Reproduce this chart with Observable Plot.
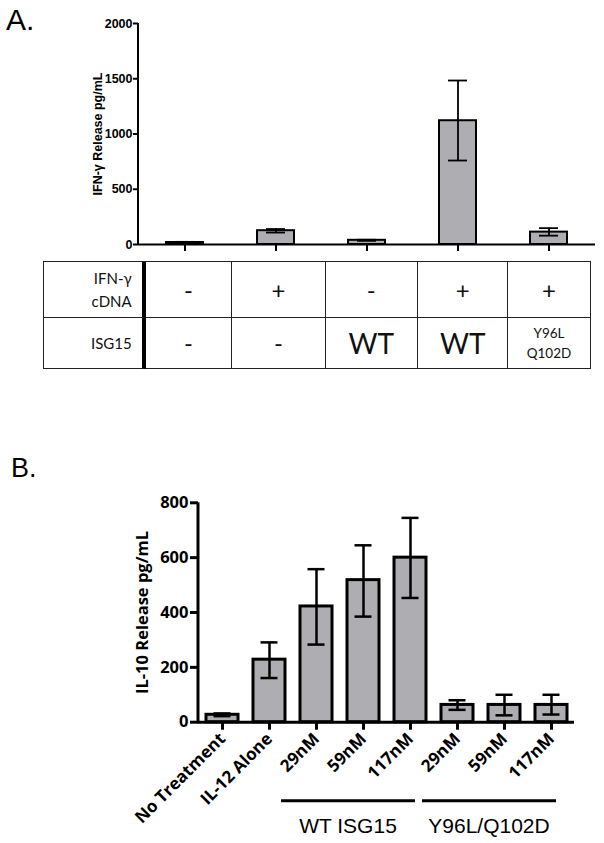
<!DOCTYPE html>
<html>
<head>
<meta charset="utf-8">
<script src="https://cdn.jsdelivr.net/npm/d3@7"></script>
<script src="https://cdn.jsdelivr.net/npm/@observablehq/plot@0.6"></script>
<style>
  body { margin: 0; background: #fff; }
  #root { position: relative; width: 604px; height: 843px; overflow: hidden; background: #fff; }
  .abs { position: absolute; }
  .panelLetter { font-family: "Liberation Sans", Arial, sans-serif; color: #000; white-space: nowrap; }
  .tbl { display: grid; box-sizing: border-box; border-top: 1.5px solid #222; border-left: 1.5px solid #222;
         font-family: Lato, "Open Sans", sans-serif; color: #111; }
  .cell { box-sizing: border-box; border-right: 1.5px solid #222; border-bottom: 1.5px solid #222;
          display: flex; align-items: center; justify-content: center; text-align: center; }
  .cell.head { justify-content: flex-end; text-align: right; padding-right: 10px; border-right: 4px solid #000; font-size: 15px; line-height: 23px; }
</style>
</head>
<body>
<div id="root"></div>
<script>
// ---------- Panel A data ----------
const aKeys = ["c1", "c2", "c3", "c4", "c5"];
const aMeans = [18, 125, 38, 1120, 112];
const aLow = [12, 108, 33, 760, 80];
const aHigh = [24, 140, 43, 1484, 148];
const aTicks = [0, 500, 1000, 1500, 2000];
const aYLabel = "IFN-γ Release pg/mL";
const tableRowNames = [["IFN-γ", "cDNA"], ["ISG15"]];
const ifnRow = ["-", "+", "-", "+", "+"];
const isgRow = ["-", "-", "WT", "WT", "Y96L\nQ102D"];

// ---------- Panel B data ----------
const bKeys = ["none", "il12", "wt29", "wt59", "wt117", "mut29", "mut59", "mut117"];
const bLabels = ["No Treatment", "IL-12 Alone", "29nM", "59nM", "117nM", "29nM", "59nM", "117nM"];
const bMeans = [27, 228, 422, 518, 600, 63, 63, 63];
const bLow = [22, 161, 283, 385, 453, 45, 25, 28];
const bHigh = [32, 291, 558, 645, 745, 80, 100, 100];
const bTicks = [0, 200, 400, 600, 800];
const bYLabel = "IL-10 Release pg/mL";
const groupNames = ["WT ISG15", "Y96L/Q102D"];
const groupFirst = ["wt29", "mut29"];
const groupLast = ["wt117", "mut117"];

const root = document.getElementById("root");
const barFill = "#aeaeb2";

// draw the y-axis line from the plot's own scales
function addYAxisLine(plot, domain, width) {
  const ys = plot.scale("y");
  const xs = plot.scale("x");
  const x0 = Math.min(xs.range[0], xs.range[1]);
  d3.select(plot).append("line")
    .attr("x1", x0).attr("x2", x0)
    .attr("y1", ys.apply(domain[0]) + width / 2).attr("y2", ys.apply(domain[1]))
    .attr("stroke", "#000").attr("stroke-width", width);
}

// ---------- Panel A chart ----------
const aData = aKeys.map((k, i) => ({key: k, mean: aMeans[i], lo: aLow[i], hi: aHigh[i]}));
const plotA = Plot.plot({
  width: 604, height: 260,
  marginLeft: 138, marginRight: 9, marginTop: 23, marginBottom: 16,
  style: {fontFamily: "'Liberation Sans', Arial, sans-serif", fontSize: "12.5px", fontWeight: "bold", color: "#000", background: "transparent", overflow: "visible"},
  x: {domain: aKeys, paddingInner: 0.595, paddingOuter: 0.2975, axis: null},
  y: {domain: [0, 2000], axis: null},
  marks: [
    Plot.barY(aData, {x: "key", y: "mean", fill: barFill, stroke: "#000", strokeWidth: 2}),
    Plot.ruleX(aData, {x: "key", y1: "lo", y2: "hi", stroke: "#000", strokeWidth: 1.8}),
    Plot.tickY(aData, {x: "key", y: "hi", inset: 9, stroke: "#000", strokeWidth: 1.8}),
    Plot.tickY(aData, {x: "key", y: "lo", inset: 9, stroke: "#000", strokeWidth: 1.8}),
    Plot.ruleY([0], {stroke: "#000", strokeWidth: 2}),
    Plot.axisY({ticks: aTicks, tickSize: 5, tickPadding: 1, tickFormat: d => String(d), strokeWidth: 2, label: null}),
    Plot.axisX({tickSize: 7, tickFormat: () => "", strokeWidth: 2, label: null}),
    Plot.text([aYLabel], {frameAnchor: "left", textAnchor: "middle", dx: -41, rotate: -90, fontWeight: "bold", fontSize: 12.5})
  ]
});
addYAxisLine(plotA, [0, 2000], 2);
plotA.classList.add("abs");
plotA.style.left = "0px";
plotA.style.top = "0px";
root.appendChild(plotA);

// Panel letters
const letterA = document.createElement("div");
letterA.className = "abs panelLetter";
letterA.style.cssText += "left:6px;top:5px;font-size:30px;line-height:30px;";
letterA.textContent = "A.";
root.appendChild(letterA);

// ---------- Panel A table ----------
const colWidths = [101.7, 86.7, 93.3, 92.3, 90.4, 82.3];
const tbl = document.createElement("div");
tbl.className = "abs tbl";
tbl.style.left = "43px";
tbl.style.top = "261px";
tbl.style.gridTemplateColumns = colWidths.map(w => w + "px").join(" ");
tbl.style.gridTemplateRows = "56px 51px";
function addCell(text, cls, fontSize, lineH) {
  const c = document.createElement("div");
  c.className = "cell" + (cls ? " " + cls : "");
  if (fontSize) c.style.fontSize = fontSize + "px";
  if (lineH) c.style.lineHeight = lineH + "px";
  c.innerHTML = text.split("\n").join("<br>");
  tbl.appendChild(c);
}
addCell(tableRowNames[0].join("\n"), "head");
ifnRow.forEach(t => addCell(t, "", 24, 24));
addCell(tableRowNames[1].join("\n"), "head");
isgRow.forEach(t => {
  if (t.includes("\n")) addCell(t, "", 13.5, 20);
  else if (t === "WT") addCell(t, "", 28, 28);
  else addCell(t, "", 24, 24);
});
root.appendChild(tbl);

// ---------- Panel B chart ----------
const bData = bKeys.map((k, i) => ({key: k, mean: bMeans[i], lo: bLow[i], hi: bHigh[i]}));
const plotB = Plot.plot({
  width: 604, height: 373,
  marginLeft: 198, marginRight: 30, marginTop: 32.3, marginBottom: 121.3,
  style: {fontFamily: "'Open Sans', sans-serif", fontSize: "16px", fontWeight: "bold", color: "#000", background: "transparent", overflow: "visible"},
  x: {domain: bKeys, paddingInner: 0.32, paddingOuter: 0.16, axis: null},
  y: {domain: [0, 800], axis: null},
  marks: [
    Plot.barY(bData, {x: "key", y: "mean", fill: barFill, stroke: "#000", strokeWidth: 3}),
    Plot.ruleX(bData, {x: "key", y1: "lo", y2: "hi", stroke: "#000", strokeWidth: 2.5}),
    Plot.tickY(bData, {x: "key", y: "hi", inset: 7.5, stroke: "#000", strokeWidth: 2.5}),
    Plot.tickY(bData, {x: "key", y: "lo", inset: 7.5, stroke: "#000", strokeWidth: 2.5}),
    Plot.ruleY([0], {stroke: "#000", strokeWidth: 3}),
    Plot.axisY({ticks: bTicks, tickSize: 8, tickPadding: 2, tickFormat: d => String(d), strokeWidth: 3, label: null, fontSize: 16.5}),
    Plot.axisX({tickSize: 8, tickRotate: -45, tickFormat: d => bLabels[bKeys.indexOf(d)], textAnchor: "end", strokeWidth: 3, label: null, fontSize: 17}),
    Plot.text([bYLabel], {frameAnchor: "left", textAnchor: "middle", dx: -56, rotate: -90, fontWeight: "bold", fontSize: 16.5})
  ]
});
addYAxisLine(plotB, [0, 800], 3);
// group bars and labels drawn from Plot's x scale
{
  const xs = plotB.scale("x");
  const half = xs.bandwidth / 2;
  const svg = d3.select(plotB);
  const g = svg.append("g");
  groupNames.forEach((name, i) => {
    const c1 = xs.apply(groupFirst[i]) + half;
    const c2 = xs.apply(groupLast[i]) + half;
    const mid = (c1 + c2) / 2 - 15;
    g.append("line").attr("x1", mid - 67).attr("x2", mid + 67)
      .attr("y1", 330.7).attr("y2", 330.7).attr("stroke", "#000").attr("stroke-width", 3);
    g.append("text").attr("x", mid).attr("y", 363).attr("text-anchor", "middle")
      .attr("font-family", "'Liberation Sans', Arial, sans-serif").attr("font-weight", "normal")
      .attr("font-size", 21).attr("fill", "#000").text(name);
  });
}
plotB.classList.add("abs");
plotB.style.left = "0px";
plotB.style.top = "470px";
root.appendChild(plotB);

const letterB = document.createElement("div");
letterB.className = "abs panelLetter";
letterB.style.cssText += "left:11px;top:455px;font-size:27px;line-height:27px;";
letterB.textContent = "B.";
root.appendChild(letterB);
</script>
</body>
</html>
